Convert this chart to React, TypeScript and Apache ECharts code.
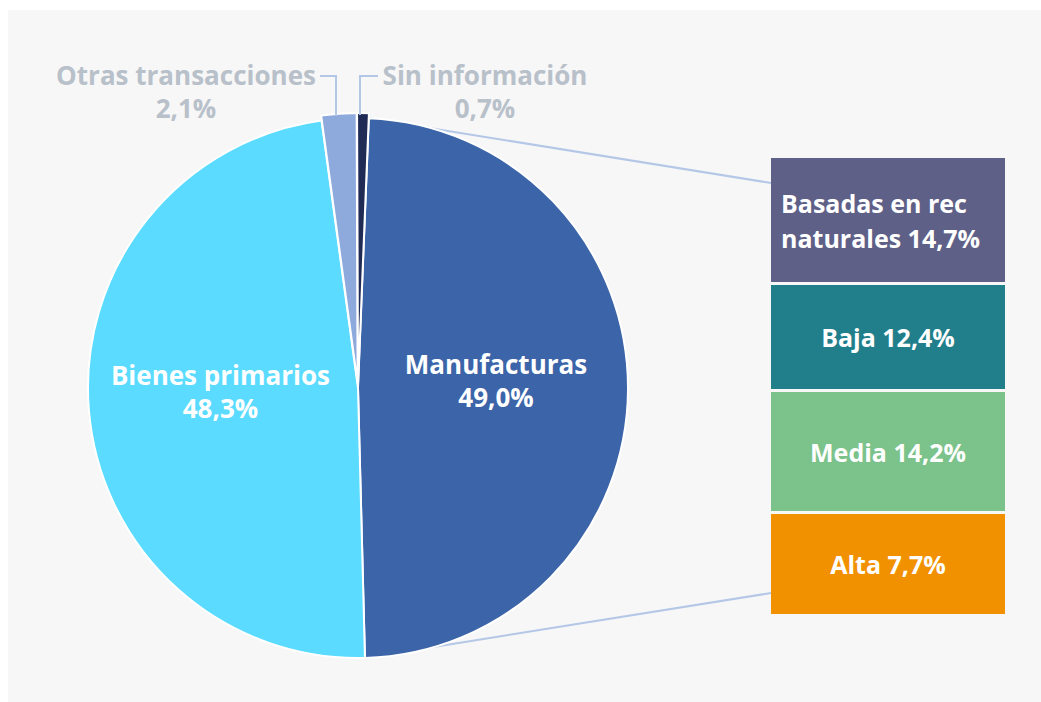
import React, { useEffect, useRef } from "react";
import * as echarts from "echarts";

// ---- Data ----
const pieNames = ["Manufacturas", "Bienes primarios", "Otras transacciones", "Sin información"];
const pieValues = [49.0, 48.3, 2.1, 0.7];
const pieColors = ["#3b64a9", "#5adbff", "#8eaadd", "#1f2a55"];

const subNames = ["Basadas en rec\nnaturales", "Baja", "Media", "Alta"];
const subValues = [14.7, 12.4, 14.2, 7.7]; // values printed in the labels
const subBarSizes = [12.55, 10.7, 12.2, 10.15]; // segment sizes as drawn in the picture
const subColors = ["#5e6087", "#217e8b", "#7cc28b", "#f29100"];

// ---- Layout / style ----
const CX = 350;
const CY = 378;
const R = 270;
const OFFSET = 5;
const START_ANGLE = 87.7;
const GRID = { left: 763, top: 148, width: 234, height: 456 };
const FONT = "'Open Sans', Lato, sans-serif";
const LABEL_GRAY = "#b8c0ca";
const CONNECT = "#b4c7e7";

// outer label placement for the two small slices (index 2 and 3)
const OUTER = {
  2: { cx: 178, cy: 81, lx: 328, ly: 66, hx: 312 },
  3: { cx: 477, cy: 81, lx: 352, ly: 66, hx: 370 },
} as Record<number, { cx: number; cy: number; lx: number; ly: number; hx: number }>;

const pct = (v: number) => v.toFixed(1).replace(".", ",") + "%";

export default function App() {
  const ref = useRef<HTMLDivElement>(null);

  useEffect(() => {
    if (!ref.current) return;
    const chart = echarts.init(ref.current, undefined, { renderer: "svg" });

    const total = pieValues.reduce((a, b) => a + b, 0);
    const degStart = 90 - START_ANGLE; // clockwise from 12 o'clock
    const degEnd = degStart + (pieValues[0] / total) * 360;
    const pt = (deg: number, r: number) => {
      const t = (deg * Math.PI) / 180;
      return [CX + r * Math.sin(t), CY - r * Math.cos(t)];
    };
    const pTop = pt(degStart, R);
    const pBot = pt(degEnd, R);
    const yOnCircle = (x: number, r: number) => CY - Math.sqrt(r * r - (x - CX) * (x - CX));

    const barTotal = subBarSizes.reduce((a, b) => a + b, 0);
    let acc = 0;
    const barData = subBarSizes.map((v, i) => {
      const d = [acc, acc + v, i];
      acc += v;
      return d;
    });

    const outerGraphics: any[] = [];
    [2, 3].forEach((i) => {
      const o = OUTER[i];
      outerGraphics.push({
        type: "polyline",
        z: 10,
        shape: {
          points: [
            [o.lx, yOnCircle(o.lx, R + OFFSET) + 2],
            [o.lx, o.ly],
            [o.hx, o.ly],
          ],
        },
        style: { stroke: CONNECT, lineWidth: 2, fill: "none" },
      });
      outerGraphics.push({
        type: "text",
        z: 10,
        x: o.cx,
        y: o.cy,
        style: {
          text: pieNames[i] + "\n" + pct(pieValues[i]),
          fill: LABEL_GRAY,
          fontFamily: FONT,
          fontWeight: "bold",
          fontSize: 26,
          lineHeight: 33,
          align: "center",
          verticalAlign: "middle",
        },
      });
    });

    const option: any = {
      animation: false,
      backgroundColor: "transparent",
      grid: { ...GRID },
      xAxis: { type: "value", min: 0, max: 1, show: false },
      yAxis: { type: "value", min: 0, max: barTotal, inverse: true, show: false },
      graphic: [
        {
          type: "line",
          z: 0,
          shape: { x1: pTop[0], y1: pTop[1], x2: GRID.left, y2: GRID.top + 25 },
          style: { stroke: CONNECT, lineWidth: 2 },
        },
        {
          type: "line",
          z: 0,
          shape: { x1: pBot[0], y1: pBot[1], x2: GRID.left, y2: GRID.top + GRID.height - 21 },
          style: { stroke: CONNECT, lineWidth: 2 },
        },
        ...outerGraphics,
      ],
      series: [
        {
          type: "pie",
          z: 3,
          center: [CX, CY],
          radius: R,
          startAngle: START_ANGLE,
          clockwise: true,
          selectedMode: "multiple",
          selectedOffset: OFFSET,
          avoidLabelOverlap: false,
          emphasis: { disabled: true },
          itemStyle: { borderColor: "#ffffff", borderWidth: 2 },
          label: {
            show: true,
            position: "inside",
            color: "#ffffff",
            fontFamily: FONT,
            fontWeight: "bold",
            fontSize: 26,
            lineHeight: 33,
            formatter: (p: any) => p.name + "\n" + pct(p.value),
          },
          labelLine: { show: false },
          labelLayout: () => ({ dy: -8 }),
          data: pieNames.map((n, i) => {
            const item: any = {
              name: n,
              value: pieValues[i],
              itemStyle: { color: pieColors[i] },
            };
            if (i >= 2) {
              item.selected = true;
              item.label = { show: false };
            }
            return item;
          }),
        },
        {
          type: "custom",
          z: 3,
          coordinateSystem: "cartesian2d",
          silent: true,
          renderItem: (params: any, api: any) => {
            const i = params.dataIndex;
            const a = api.coord([0, api.value(0)]);
            const b = api.coord([1, api.value(1)]);
            const gt = i > 0 ? 1.5 : 0;
            const gb = i < subBarSizes.length - 1 ? 1.5 : 0;
            const y = Math.min(a[1], b[1]) + gt;
            const h = Math.abs(b[1] - a[1]) - gt - gb;
            const text = subNames[i] + " " + pct(subValues[i]);
            return {
              type: "rect",
              shape: { x: a[0], y, width: b[0] - a[0], height: h },
              style: { fill: subColors[i] },
              textContent: {
                style: {
                  text,
                  fill: "#ffffff",
                  fontFamily: FONT,
                  fontWeight: "bold",
                  fontSize: 25,
                  lineHeight: 35,
                  align: i === 0 ? "left" : "center",
                },
              },
              textConfig: { position: i === 0 ? "insideLeft" : "inside", distance: 10 },
            };
          },
          data: barData,
        },
      ],
    };

    chart.setOption(option);
    return () => chart.dispose();
  }, []);

  return (
    <div
      style={{
        position: "absolute",
        left: 8,
        top: 10,
        width: 1033,
        height: 692,
        background: "#f7f7f7",
      }}
    >
      <div ref={ref} style={{ width: 1033, height: 692 }} />
    </div>
  );
}
